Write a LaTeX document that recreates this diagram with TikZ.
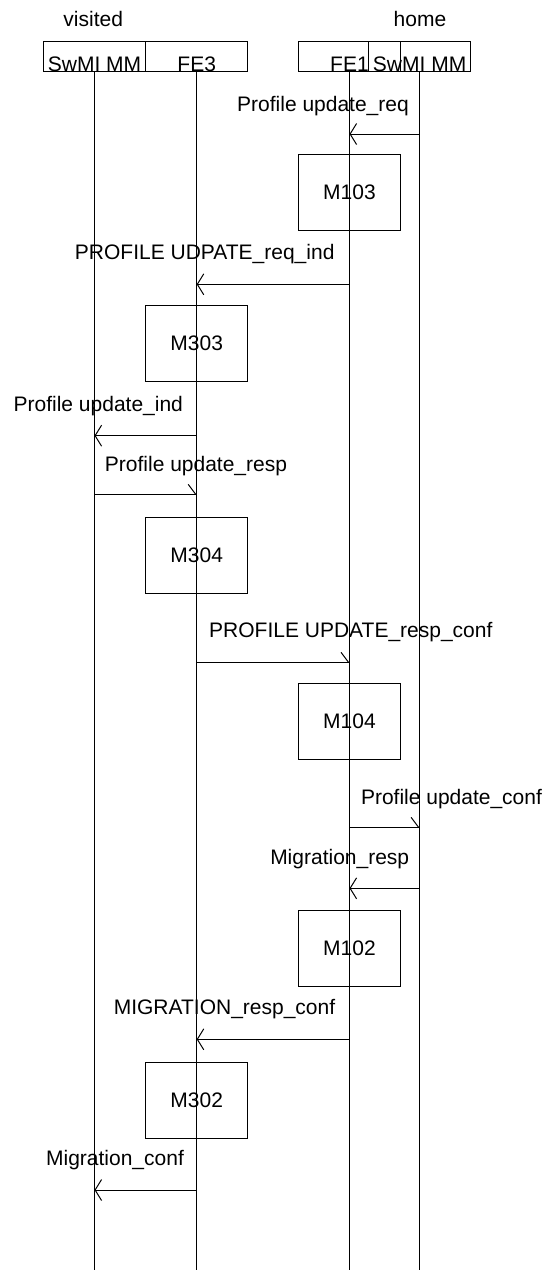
\documentclass[tikz,border=0pt]{standalone}
\usepackage{fontspec}
\setmainfont{Liberation Sans}
\usetikzlibrary{arrows.meta}
\begin{document}
\begin{tikzpicture}[x=1pt,y=-1pt,
  every node/.style={font=\fontsize{21}{25}\selectfont},
  hdr/.style={draw, line width=1pt, rectangle, inner sep=0pt, minimum width=102pt, minimum height=30pt, text height=30pt, text depth=0pt},
  proc/.style={draw, line width=1pt, rectangle, inner sep=0pt, minimum width=102pt, minimum height=76pt},
  lbl/.style={anchor=base, inner sep=0pt},
  life/.style={line width=1pt},
  msgl/.style={line width=1pt, -{Straight Barb[length=6.5pt, width=21pt, line width=1pt]}},
  msgr/.style={line width=1pt, -{Straight Barb[harpoon, length=7.5pt, width=20pt, line width=1pt]}}]
\useasboundingbox (0,0) rectangle (546,1270);
% headers
\node[lbl] (vis) at (93.2,26.7) {visited};
\node[lbl] (hom) at (420,26.7) {home};
\node[hdr] (sv) at (94.5,56.7) {SwMI MM};
\node[hdr] (f3) at (196.7,56.7) {FE3};
\node[hdr] (f1) at (349.5,56.7) {FE1};
\node[hdr] (sh) at (419.6,56.7) {SwMI MM};
% lifeline ends
\coordinate (svE) at (94.5,1270);
\coordinate (f3E) at (196.7,1270);
\coordinate (f1E) at (349.5,1270);
\coordinate (shE) at (419.6,1270);
\draw[life] (sv.south) -- (svE);
\draw[life] (f3.south) -- (f3E);
\draw[life] (f1.south) -- (f1E);
\draw[life] (sh.south) -- (shE);
% processes
\node[proc] (p103) at (349.5,192.5) {M103};
\node[proc] (p303) at (196.7,343.2) {M303};
\node[proc] (p304) at (196.7,555.7) {M304};
\node[proc] (p104) at (349.5,721) {M104};
\node[proc] (p102) at (349.5,948.2) {M102};
\node[proc] (p302) at (196.7,1100.5) {M302};
% message end points
\coordinate (a1s) at (419.6,134);   \coordinate (a1e) at (349.5,134);
\coordinate (a3s) at (349.5,284.3); \coordinate (a3e) at (196.7,284.3);
\coordinate (a5s) at (196.7,435.7); \coordinate (a5e) at (94.5,435.7);
\coordinate (a6s) at (94.5,494.3);  \coordinate (a6e) at (196.7,494.3);
\coordinate (a8s) at (196.7,662.3); \coordinate (a8e) at (349.5,662.3);
\coordinate (a9s) at (349.5,827.3); \coordinate (a9e) at (419.6,827.3);
\coordinate (a10s) at (419.6,888.3); \coordinate (a10e) at (349.5,888.3);
\coordinate (a11s) at (349.5,1039.3); \coordinate (a11e) at (196.7,1039.3);
\coordinate (a12s) at (196.7,1190); \coordinate (a12e) at (94.5,1190);
% messages
\draw[msgl] (a1s) -- (a1e);
\node[lbl] (l1) at (323,111) {Profile update\_req};
\draw[msgl] (a3s) -- (a3e);
\node[lbl] (l3) at (204.7,259.3) {PROFILE UDPATE\_req\_ind};
\draw[msgl] (a5s) -- (a5e);
\node[lbl] (l5) at (98.3,411.3) {Profile update\_ind};
\draw[msgr] (a6s) -- (a6e);
\node[lbl] (l6) at (196,471.7) {Profile update\_resp};
\draw[msgr] (a8s) -- (a8e);
\node[lbl] (l8) at (350.8,637) {PROFILE UPDATE\_resp\_conf};
\draw[msgr] (a9s) -- (a9e);
\node[lbl] (l9) at (451.5,804.3) {Profile update\_conf};
\draw[msgl] (a10s) -- (a10e);
\node[lbl] (l10) at (339.7,864) {Migration\_resp};
\draw[msgl] (a11s) -- (a11e);
\node[lbl] (l11) at (224.5,1014) {MIGRATION\_resp\_conf};
\draw[msgl] (a12s) -- (a12e);
\node[lbl] (l12) at (115,1165.7) {Migration\_conf};
\end{tikzpicture}
\end{document}
